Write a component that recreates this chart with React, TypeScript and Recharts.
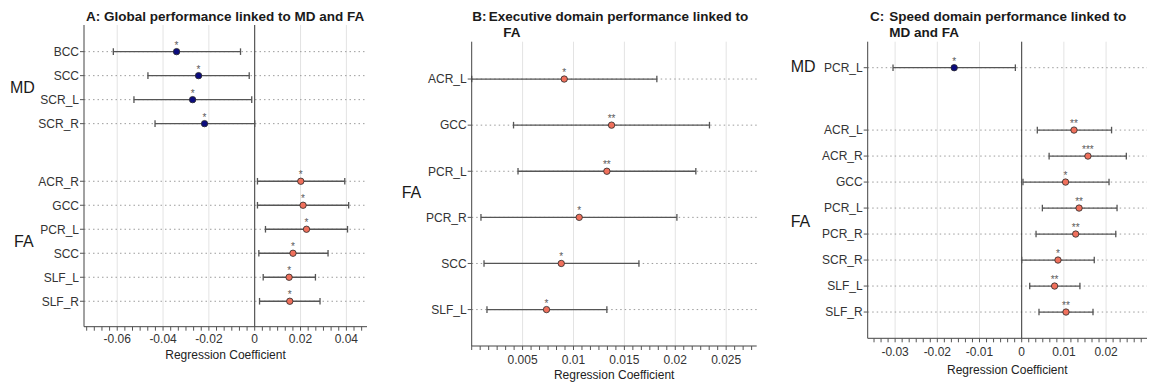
import React from 'react';
import { ScatterChart, Scatter, XAxis, YAxis, ErrorBar, ReferenceLine } from 'recharts';

const FONT = '"Liberation Sans", Arial, Helvetica, sans-serif';
const MD_COLOR = '#0b0b7e';
const FA_COLOR = '#f0705c';

// ---------- Panel A: Global performance ----------
const aLabels = ['BCC', 'SCC', 'SCR_L', 'SCR_R', 'ACR_R', 'GCC', 'PCR_L', 'SCC', 'SLF_L', 'SLF_R'];
const aGroups = ['MD', 'MD', 'MD', 'MD', 'FA', 'FA', 'FA', 'FA', 'FA', 'FA'];
const aCoef = [-0.0341, -0.0245, -0.0271, -0.0219, 0.0201, 0.0211, 0.0226, 0.0167, 0.015, 0.0153];
const aLow = [-0.0617, -0.0466, -0.0527, -0.0435, 0.0012, 0.0012, 0.0047, 0.0018, 0.0037, 0.0021];
const aHigh = [-0.0062, -0.0024, -0.0013, 0.0, 0.0393, 0.041, 0.0405, 0.032, 0.0265, 0.0285];
const aStars = ['*', '*', '*', '*', '*', '*', '*', '*', '*', '*'];
const aTicks = [-0.06, -0.04, -0.02, 0, 0.02, 0.04];

// ---------- Panel B: Executive domain ----------
const bLabels = ['ACR_L', 'GCC', 'PCR_L', 'PCR_R', 'SCC', 'SLF_L'];
const bGroups = ['FA', 'FA', 'FA', 'FA', 'FA', 'FA'];
const bCoef = [0.00909, 0.01374, 0.01328, 0.01056, 0.0088, 0.00735];
const bLow = [0.0, 0.00411, 0.00455, 0.00091, 0.00121, 0.0015];
const bHigh = [0.01819, 0.02336, 0.02202, 0.02016, 0.01643, 0.01328];
const bStars = ['*', '**', '**', '*', '*', '*'];
const bTicks = [0.005, 0.01, 0.015, 0.02, 0.025];

// ---------- Panel C: Speed domain ----------
const cLabels = ['PCR_L', 'ACR_L', 'ACR_R', 'GCC', 'PCR_L', 'PCR_R', 'SCR_R', 'SLF_L', 'SLF_R'];
const cGroups = ['MD', 'FA', 'FA', 'FA', 'FA', 'FA', 'FA', 'FA', 'FA'];
const cCoef = [-0.016, 0.0124, 0.0157, 0.0104, 0.0136, 0.0128, 0.0086, 0.0078, 0.0105];
const cLow = [-0.0305, 0.0037, 0.0065, 0.0003, 0.0049, 0.0034, 0.0, 0.0019, 0.0041];
const cHigh = [-0.0015, 0.0213, 0.0248, 0.0207, 0.0226, 0.0223, 0.0172, 0.0138, 0.0169];
const cStars = ['*', '**', '***', '*', '**', '**', '*', '**', '**'];
const cTicks = [-0.03, -0.02, -0.01, 0, 0.01, 0.02];

type Row = { x: number; y: number; label: string; group: string; err: [number, number]; stars: string };

function buildRows(
  labels: string[], groups: string[], coef: number[], low: number[], high: number[], stars: string[], groupGap: number
): Row[] {
  let pos = 0;
  return labels.map((label, i) => {
    pos += i > 0 && groups[i] !== groups[i - 1] ? 1 + groupGap : 1;
    return { x: coef[i], y: pos, label, group: groups[i], err: [coef[i] - low[i], high[i] - coef[i]], stars: stars[i] };
  });
}

function minorTicks(lo: number, hi: number, step: number): number[] {
  const out: number[] = [];
  const k0 = Math.ceil(lo / step - 1e-9);
  const k1 = Math.floor(hi / step + 1e-9);
  for (let k = k0; k <= k1; k++) out.push(Number((k * step).toFixed(8)));
  return out;
}

const makeShape = (fill: string) => (props: any) => {
  const { cx, cy, payload } = props;
  if (cx == null || cy == null) return <g />;
  return (
    <g>
      <circle cx={cx} cy={cy} r={3.2} fill={fill} stroke="#2a2a2a" strokeWidth={0.8} />
      <text x={cx} y={cy - 3} textAnchor="middle" fontSize={10} fill="#5a5a5a" stroke="none">
        {payload.stars}
      </text>
    </g>
  );
};

type PanelProps = {
  rows: Row[];
  width: number;
  height: number;
  margin: { top: number; right: number; bottom: number; left: number };
  xDomain: [number, number];
  yDomain: [number, number];
  majors: number[];
  minorStep: number;
  tickMargin: number;
  zeroLine: boolean;
};

function Panel({ rows, width, height, margin, xDomain, yDomain, majors, minorStep, tickMargin, zeroLine }: PanelProps) {
  const ticks = minorTicks(xDomain[0], xDomain[1], minorStep);
  const rowPos = rows.map((r) => r.y);
  const md = rows.filter((r) => r.group === 'MD');
  const fa = rows.filter((r) => r.group === 'FA');
  const fmtX = (v: number) => {
    const m = majors.find((t) => Math.abs(t - v) < 1e-7);
    return m === undefined ? '' : String(m);
  };
  const fmtY = (v: number) => {
    const r = rows.find((row) => Math.abs(row.y - v) < 1e-7);
    return r ? r.label : '';
  };
  return (
    <ScatterChart width={width} height={height} margin={margin}>
      {majors.filter((m) => m !== 0).map((m) => (
        <ReferenceLine key={'v' + m} x={m} stroke="#e3e3e3" strokeWidth={1} />
      ))}
      {rowPos.map((p) => (
        <ReferenceLine key={'r' + p} y={p} stroke="#9c9c9c" strokeDasharray="1.5 3" strokeWidth={1} />
      ))}
      <XAxis
        type="number"
        dataKey="x"
        domain={xDomain}
        allowDataOverflow
        ticks={ticks}
        interval={0}
        tickFormatter={fmtX}
        tick={{ fontSize: 12, fill: '#333' }}
        tickSize={4}
        tickMargin={tickMargin}
        axisLine={{ stroke: '#444' }}
        tickLine={{ stroke: '#555' }}
        height={30}
      />
      <YAxis
        type="number"
        dataKey="y"
        domain={yDomain}
        allowDataOverflow
        reversed
        ticks={rowPos}
        interval={0}
        tickFormatter={fmtY}
        tick={{ fontSize: 12, fill: '#333' }}
        tickSize={4}
        tickMargin={1}
        axisLine={{ stroke: '#444' }}
        tickLine={{ stroke: '#555' }}
        width={60}
      />
      {zeroLine && <ReferenceLine x={0} stroke="#333" strokeWidth={1} />}
      {md.length > 0 && (
        <Scatter data={md} fill={MD_COLOR} shape={makeShape(MD_COLOR)} isAnimationActive={false}>
          <ErrorBar dataKey="err" direction="x" width={3.3} stroke="#555" strokeWidth={1.3} />
        </Scatter>
      )}
      {fa.length > 0 && (
        <Scatter data={fa} fill={FA_COLOR} shape={makeShape(FA_COLOR)} isAnimationActive={false}>
          <ErrorBar dataKey="err" direction="x" width={3.3} stroke="#555" strokeWidth={1.3} />
        </Scatter>
      )}
    </ScatterChart>
  );
}

const GROUP_GAP = 1.4;

export default function App() {
  const aRows = buildRows(aLabels, aGroups, aCoef, aLow, aHigh, aStars, GROUP_GAP);
  const bRows = buildRows(bLabels, bGroups, bCoef, bLow, bHigh, bStars, GROUP_GAP);
  const cRows = buildRows(cLabels, cGroups, cCoef, cLow, cHigh, cStars, GROUP_GAP);
  const titleStyle = { fontSize: 13.5, fontWeight: 700, fill: '#1a1a1a' } as const;
  const groupStyle = { fontSize: 16, fill: '#1a1a1a' } as const;
  const axisTitle = { fontSize: 12, fill: '#222' } as const;
  return (
    <div style={{ position: 'absolute', left: 0, top: 0, width: 1150, height: 388, background: '#fff', fontFamily: FONT }}>
      <div style={{ display: 'flex' }}>
        <Panel
          rows={aRows}
          width={380}
          height={388}
          margin={{ top: 25, right: 13, left: 24, bottom: 31.3 }}
          xDomain={[-0.0745, 0.049]}
          yDomain={[-0.11, 12.46]}
          majors={aTicks}
          minorStep={0.02 / 6}
          tickMargin={4}
          zeroLine
        />
        <Panel
          rows={bRows}
          width={380}
          height={388}
          margin={{ top: 41.7, right: 3.3, left: 31.7, bottom: 12 }}
          xDomain={[0, 0.028]}
          yDomain={[0.19, 6.79]}
          majors={bTicks}
          minorStep={0.005 / 6}
          tickMargin={5}
          zeroLine={false}
        />
        <Panel
          rows={cRows}
          width={390}
          height={388}
          margin={{ top: 41.7, right: 3, left: 47.7, bottom: 19.7 }}
          xDomain={[-0.0365, 0.0297]}
          yDomain={[0, 11.41]}
          majors={cTicks}
          minorStep={0.01 / 6}
          tickMargin={5}
          zeroLine
        />
      </div>
      <svg width={1150} height={388} style={{ position: 'absolute', left: 0, top: 0, pointerEvents: 'none' }}>
        <text x={86} y={20.5} style={titleStyle}>A: Global performance linked to MD and FA</text>
        <text x={472.3} y={20.7} style={titleStyle}>B:</text>
        <text x={488.7} y={20.7} style={titleStyle}>Executive domain performance linked to</text>
        <text x={503.3} y={36.7} style={titleStyle}>FA</text>
        <text x={870} y={20.7} style={titleStyle}>C:</text>
        <text x={889.3} y={20.7} style={titleStyle}>Speed domain performance linked to</text>
        <text x={889.3} y={36.7} style={titleStyle}>MD and FA</text>

        <text x={10} y={93.3} style={groupStyle}>MD</text>
        <text x={14} y={246.7} style={groupStyle}>FA</text>
        <text x={401.7} y={198.3} style={groupStyle}>FA</text>
        <text x={790.7} y={72.3} style={groupStyle}>MD</text>
        <text x={790.7} y={227.3} style={groupStyle}>FA</text>

        <text x={225.5} y={359} textAnchor="middle" style={axisTitle}>Regression Coefficient</text>
        <text x={614.2} y={379.3} textAnchor="middle" style={axisTitle}>Regression Coefficient</text>
        <text x={1007.3} y={374.3} textAnchor="middle" style={axisTitle}>Regression Coefficient</text>
      </svg>
    </div>
  );
}
